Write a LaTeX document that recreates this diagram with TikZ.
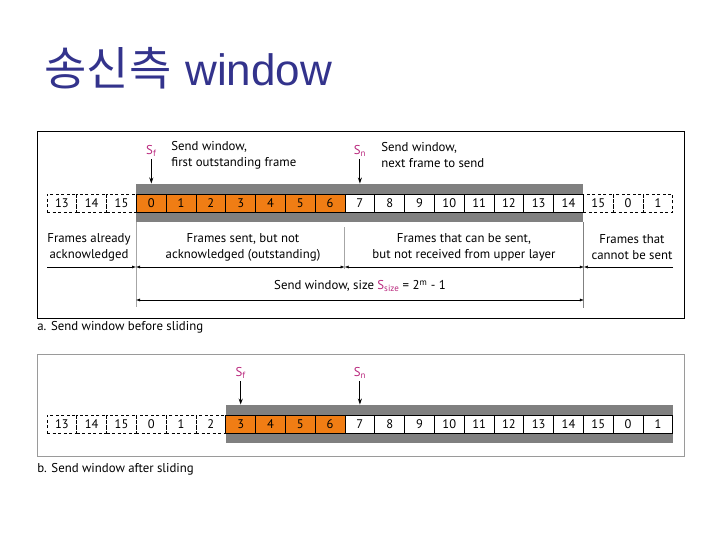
\documentclass[tikz,border=0pt]{standalone}
\usepackage{fontspec}
\setmainfont{PT Sans}
\newfontfamily\krfont{Noto Sans CJK KR}
\newfontfamily\titlefont{Liberation Sans}
\usetikzlibrary{arrows.meta}
\definecolor{okno}{RGB}{240,125,20}
\definecolor{pas}{RGB}{128,128,128}
\definecolor{ukaz}{RGB}{185,40,125}
\definecolor{nadpis}{RGB}{51,51,140}

\begin{document}
\begin{tikzpicture}[x=1pt, y=-1pt, line width=0.8pt,
    cell/.style={draw, minimum width=29.8pt, minimum height=18pt, inner sep=0pt, font=\fontsize{12.5}{12.5}\selectfont},
    outcell/.style={cell, dash pattern=on 3pt off 2.5pt},
    oncell/.style={cell, fill=okno},
    freecell/.style={cell, fill=white},
    txt/.style={font=\fontsize{12.8}{16}\selectfont, align=center, inner sep=0pt},
    ptr/.style={-{Stealth[length=6pt, width=4pt]}, line width=1pt},
    dim/.style={line width=0.5pt},
    sep/.style={pas!70, line width=1pt}]
    \useasboundingbox (0,0) rectangle (720,540);

    % nadpis
    \node[anchor=west, text=nadpis, inner sep=0pt] (nadpis) at (44,68)
        {\fontsize{46}{46}\krfont 송신측\hspace{14pt}\fontsize{44}{44}\titlefont window};

    % a. pred posunutim
    \draw (37,131) rectangle (684,318);
    \fill[pas] (136.4,184) rectangle (583.4,222);
    \foreach \lab [count=\i from 0] in {13,14,15}
        \node[outcell] (a-\i) at ({61.9+29.8*\i},203) {\lab};
    \foreach \lab [count=\i from 3] in {0,...,6}
        \node[oncell] (a-\i) at ({61.9+29.8*\i},203) {\lab};
    \foreach \lab [count=\i from 10] in {7,...,14}
        \node[freecell] (a-\i) at ({61.9+29.8*\i},203) {\lab};
    \foreach \lab [count=\i from 18] in {15,0,1}
        \node[outcell] (a-\i) at ({61.9+29.8*\i},203) {\lab};

    \node[txt, text=ukaz] (sf-a) at (a-3 |- 0,151) {S\textsubscript{f}};
    \coordinate (sf-a-tip) at ([yshift=10pt]a-3.north);
    \draw[ptr] ([yshift=-2pt]sf-a.south) -- (sf-a-tip);
    \node[txt, anchor=west, align=left] (sf-a-txt) at (171,155.5) {Send window,\\first outstanding frame};
    \node[txt, text=ukaz] (sn-a) at (a-10 |- 0,151) {S\textsubscript{n}};
    \coordinate (sn-a-tip) at ([yshift=10pt]a-10.north);
    \draw[ptr] ([yshift=-2pt]sn-a.south) -- (sn-a-tip);
    \node[txt, anchor=west, align=left] (sn-a-txt) at (381,155.5) {Send window,\\next frame to send};

    % deleni a popisy
    \draw[sep] ([yshift=-10pt]a-3.south west) -- ++(0,85);
    \draw[sep] ([yshift=-15pt]a-10.south west) -- ++(0,42);
    \draw[sep, pas] ([yshift=-10pt]a-17.south east) -- ++(0,86);
    \node[txt] (ack) at (89,247.5) {Frames already\\acknowledged};
    \node[txt] (out) at (243,247.5) {Frames sent, but not\\acknowledged (outstanding)};
    \node[txt] (can) at (464,247.5) {Frames that can be sent,\\but not received from upper layer};
    \node[txt] (cannot) at (632,247.5) {Frames that\\cannot be sent};
    \coordinate (d0) at (47,267);
    \coordinate (d1) at (a-3.west |- 0,267);
    \coordinate (d2) at (a-10.west |- 0,267);
    \coordinate (d3) at (a-17.east |- 0,267);
    \coordinate (d4) at (673,267);
    \draw[dim, -{Latex[length=4pt, width=3pt]}] (d0) -- (d1);
    \draw[dim, {Latex[length=4pt, width=3pt]}-{Latex[length=4pt, width=3pt]}] (d1) -- (d2);
    \draw[dim, {Latex[length=4pt, width=3pt]}-{Latex[length=4pt, width=3pt]}] (d2) -- (d3);
    \draw[dim, -{Latex[length=4pt, width=3pt]}] (d4) -- (d3);
    \node[txt] (size) at (360,286) {Send window, size \textcolor{ukaz}{S\textsubscript{size}} = 2\textsuperscript{m} - 1};
    \coordinate (w0) at (a-3.west |- 0,300);
    \coordinate (w1) at (a-17.east |- 0,300);
    \draw[dim, {Latex[length=4pt, width=3pt]}-{Latex[length=4pt, width=3pt]}] (w0) -- (w1);
    \node[txt, anchor=west] (cap-a) at (37,327.5) {a. Send window before sliding};

    % b. po posunuti
    \draw[pas!80] (37,354) rectangle (684,456);
    \fill[pas] (226.2,405) rectangle (673,443);
    \foreach \lab [count=\i from 0] in {13,14,15,0,1,2}
        \node[outcell] (b-\i) at ({61.9+29.8*\i},424) {\lab};
    \foreach \lab [count=\i from 6] in {3,...,6}
        \node[oncell] (b-\i) at ({61.9+29.8*\i},424) {\lab};
    \foreach \lab [count=\i from 10] in {7,8,9,10,11,12,13,14,15,0,1}
        \node[freecell] (b-\i) at ({61.9+29.8*\i},424) {\lab};

    \node[txt, text=ukaz] (sf-b) at (b-6 |- 0,373) {S\textsubscript{f}};
    \coordinate (sf-b-tip) at ([yshift=10pt]b-6.north);
    \draw[ptr] ([yshift=-2pt]sf-b.south) -- (sf-b-tip);
    \node[txt, text=ukaz] (sn-b) at (b-10 |- 0,373) {S\textsubscript{n}};
    \coordinate (sn-b-tip) at ([yshift=10pt]b-10.north);
    \draw[ptr] ([yshift=-2pt]sn-b.south) -- (sn-b-tip);
    \node[txt, anchor=west] (cap-b) at (37,469.5) {b. Send window after sliding};
\end{tikzpicture}
\end{document}
